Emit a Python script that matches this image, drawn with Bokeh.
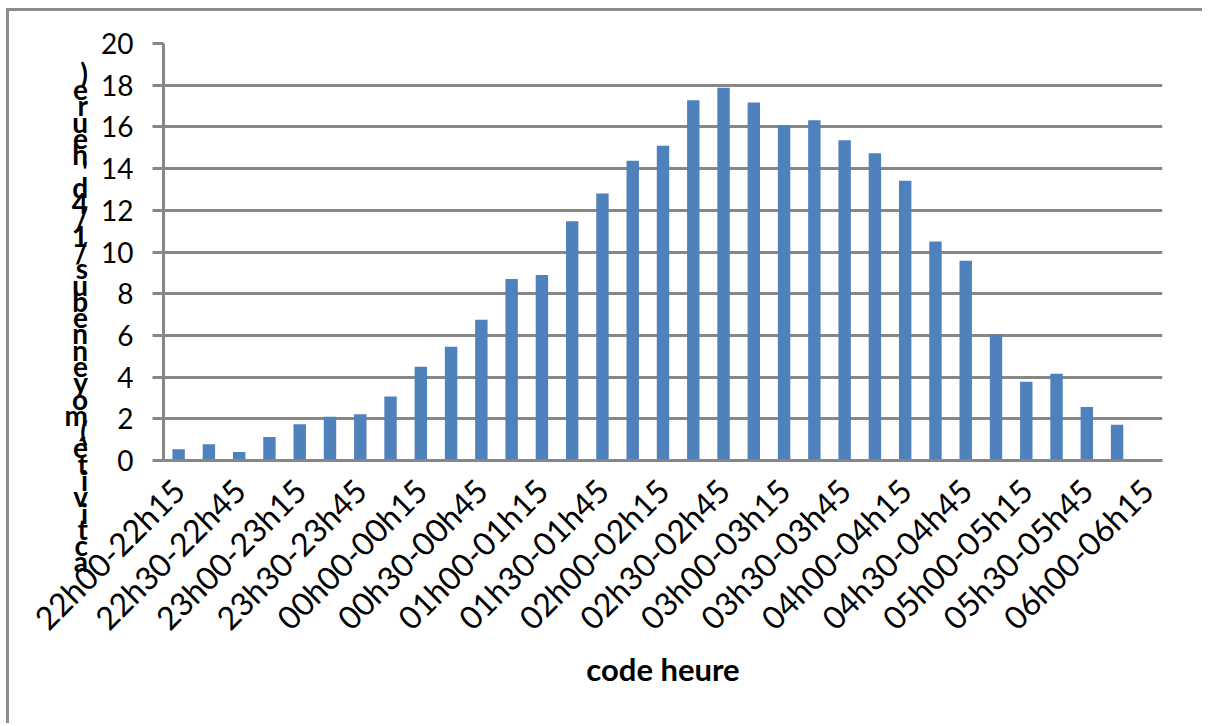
from bokeh.plotting import figure
from bokeh.models import Range1d, FixedTicker
from bokeh.embed import file_html
from bokeh.resources import INLINE

categories = ["22h00-22h15", "22h15-22h30", "22h30-22h45", "22h45-23h00",
              "23h00-23h15", "23h15-23h30", "23h30-23h45", "23h45-00h00",
              "00h00-00h15", "00h15-00h30", "00h30-00h45", "00h45-01h00",
              "01h00-01h15", "01h15-01h30", "01h30-01h45", "01h45-02h00",
              "02h00-02h15", "02h15-02h30", "02h30-02h45", "02h45-03h00",
              "03h00-03h15", "03h15-03h30", "03h30-03h45", "03h45-04h00",
              "04h00-04h15", "04h15-04h30", "04h30-04h45", "04h45-05h00",
              "05h00-05h15", "05h15-05h30", "05h30-05h45", "05h45-06h00",
              "06h00-06h15"]
values = [0.54, 0.78, 0.41, 1.13, 1.74, 2.10, 2.22, 3.07,
          4.50, 5.46, 6.75, 8.70, 8.90, 11.48, 12.81, 14.38,
          15.10, 17.28, 17.88, 17.17, 16.08, 16.32, 15.36, 14.74,
          13.42, 10.50, 9.58, 6.03, 3.78, 4.16, 2.57, 1.72]
y_ticks = [0, 2, 4, 6, 8, 10, 12, 14, 16, 18, 20]
x_title = "code heure"
y_title = "activité (moyenne bus/1/4 d'heure)"

GRID = "#878787"
FONT = "Lato"

positions = list(range(len(categories)))

p = figure(x_range=Range1d(-0.5, len(categories) - 0.5), y_range=Range1d(0, 20),
           width=1196, height=715, output_backend="svg", toolbar_location=None,
           min_border_left=154, min_border_right=43, min_border_top=32, min_border_bottom=266)
p.margin = (8, 0, 0, 6)
p.styles = {"border-left": "3px solid #8c8c8c", "border-top": "3px solid #8c8c8c"}
p.outline_line_color = None
p.background_fill_color = "white"
p.border_fill_color = "white"

p.vbar(x=positions[:len(values)], top=values, width=0.41,
       fill_color="#4f81bd", line_color=None)

# grid
p.xgrid.grid_line_color = None
p.ygrid.grid_line_color = GRID
p.ygrid.grid_line_width = 3

# y axis
p.yaxis.ticker = y_ticks
p.yaxis.axis_line_color = GRID
p.yaxis.axis_line_width = 3
p.yaxis.major_tick_line_color = GRID
p.yaxis.major_tick_line_width = 3
p.yaxis.major_tick_in = 0
p.yaxis.major_tick_out = 11
p.yaxis.minor_tick_line_color = None
p.yaxis.major_label_text_font = FONT
p.yaxis.major_label_text_font_size = "28px"
p.yaxis.major_label_text_color = "black"
p.yaxis.major_label_standoff = 19

# stacked y title: letters stacked in reverse order as in the original;
# blank lines on top push the visible column down
stacked = "\n".join([""] * 8 + [ch for ch in reversed(y_title) if ch != " "])
p.yaxis.axis_label = stacked
p.yaxis.axis_label_orientation = "horizontal"
p.yaxis.axis_label_text_align = "left"
p.yaxis.axis_label_text_font = FONT
p.yaxis.axis_label_text_font_style = "bold"
p.yaxis.axis_label_text_font_size = "28px"
p.yaxis.axis_label_text_line_height = 0.479
p.yaxis.axis_label_text_color = "black"
p.yaxis.axis_label_standoff = 10

# x axis: every other category labelled
label_ticks = positions[::2]
p.xaxis.ticker = FixedTicker(ticks=label_ticks)
p.xaxis.major_label_overrides = {i: categories[i] for i in label_ticks}
p.xaxis.axis_line_color = GRID
p.xaxis.axis_line_width = 3
p.xaxis.major_tick_line_color = None
p.xaxis.minor_tick_line_color = None
p.xaxis.major_label_orientation = 0.785398
p.xaxis.major_label_text_font = FONT
p.xaxis.major_label_text_font_size = "32px"
p.xaxis.major_label_text_color = "black"
p.xaxis.major_label_standoff = 18
p.xaxis.axis_label = x_title
p.xaxis.axis_label_text_font = FONT
p.xaxis.axis_label_text_font_style = "bold"
p.xaxis.axis_label_text_font_size = "31px"
p.xaxis.axis_label_text_color = "black"
p.xaxis.axis_label_standoff = -4

open("out.html", "w").write(file_html(p, INLINE))
